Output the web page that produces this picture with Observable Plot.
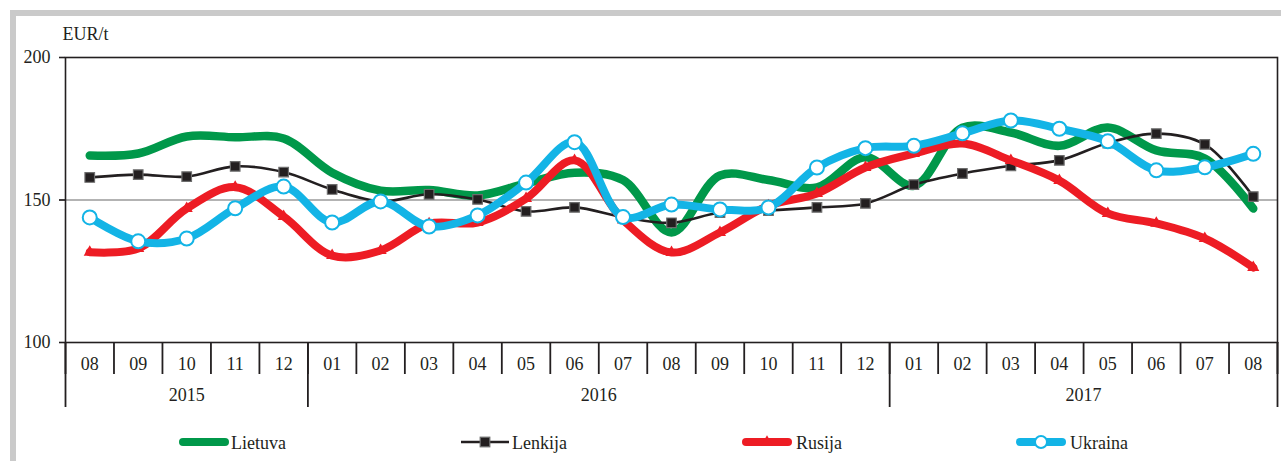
<!DOCTYPE html>
<html>
<head>
<meta charset="utf-8">
<script src="https://cdn.jsdelivr.net/npm/d3@7"></script>
<script src="https://cdn.jsdelivr.net/npm/@observablehq/plot@0.6"></script>
<style>
  body { margin: 0; background: #fff; font-family: "Liberation Serif", "DejaVu Serif", serif; }
  #wrap { position: relative; width: 1281px; height: 461px; overflow: hidden; background: #fff; }
  #border { position: absolute; left: 10px; top: 10px; width: 1400px; height: 600px;
            border-top: 6px solid #cacaca; border-left: 6px solid #cacaca; box-sizing: border-box; }
  #chart { position: absolute; left: 0; top: 0; }
  #legend { position: absolute; left: 0; top: 420px; }
  svg text { font-family: "Liberation Serif", "DejaVu Serif", serif !important; }
</style>
</head>
<body>
<div id="wrap">
  <div id="border"></div>
  <div id="chart"></div>
  <div id="legend"></div>
</div>
<script>
// ---- data ----
const months = ["08","09","10","11","12","01","02","03","04","05","06","07","08","09","10","11","12","01","02","03","04","05","06","07","08"];
const yearLabels = ["2015", "2016", "2017"];
const yearCenters = [2, 10.5, 20.5];
const yearBounds = [-0.5, 4.5, 16.5, 24.5];
const yTicks = [100, 150, 200];
const unitLabel = "EUR/t";

const seriesNames = ["Lietuva", "Lenkija", "Rusija", "Ukraina"];
const seriesColors = ["#00984a", "#231f20", "#ed1c24", "#13b4e6"];

const lietuva = [165.6,166.3,172.3,172,171.6,159.6,153.3,153.5,151.6,155.8,159.6,157,138.6,158.6,157,154.4,165,155,175.4,173.7,169,175.4,167.4,164.6,147];
const lenkija = [157.9,158.9,158.2,161.8,159.8,153.7,149.5,152,150.2,146,147.4,144,142,145.6,146.3,147.4,148.8,155.4,159.3,162,163.9,170,173.3,169.5,151.2];
const rusija  = [131.7,133,147,154.5,144.2,130.5,132.3,141.7,142.1,150.5,163.9,143,131.6,138.6,148,152.3,161.4,166.3,169.8,163.9,156.8,145.3,141.8,136.5,126.3];
const ukraina = [143.9,135.5,136.5,147.1,154.7,142.1,149.5,140.7,144.6,156.1,170.3,144,148.4,146.7,147.4,161.4,168.2,169,173.4,177.9,175,170.6,160.4,161.5,166.2];

// ---- build tables ----
const toRows = (arr) => arr.map((v, i) => ({i, v}));
const L = toRows(lietuva), K = toRows(lenkija), R = toRows(rusija), U = toRows(ukraina);
const monthIdx = months.map((m, i) => i);
const monthBounds = d3.range(months.length + 1).map(i => i - 0.5);
const font = '"Liberation Serif", "DejaVu Serif", serif';

const chart = Plot.plot({
  width: 1281,
  height: 420,
  marginLeft: 65,
  marginRight: 4,
  marginTop: 57,
  marginBottom: 78,
  style: { fontFamily: font, fontSize: "18px", background: "transparent", color: "#231f20" },
  x: { type: "linear", domain: [-0.5, months.length - 0.5], axis: null },
  y: { domain: [100, 200], axis: null },
  marks: [
    Plot.ruleY([150], { stroke: "#9a9a9a", strokeWidth: 1.5, insetLeft: -6 }),
    Plot.frame({ stroke: "#231f20", strokeWidth: 1.6 }),
    Plot.axisY(yTicks, { tickSize: 6, tickPadding: 9, fontSize: 18, stroke: "#231f20", strokeWidth: 1.6, label: null, fill: "#231f20" }),
    Plot.text([unitLabel], { frameAnchor: "top-left", textAnchor: "start", lineAnchor: "bottom", dx: -3, dy: -18, fontSize: 18, fill: "#231f20" }),
    // month separators
    Plot.ruleX(monthBounds, { x: d => d, y1: () => 100, y2: () => 100, insetBottom: -32, stroke: "#231f20", strokeWidth: 1.8 }),
    // year separators
    Plot.ruleX(yearBounds, { x: d => d, y1: () => 100, y2: () => 100, insetBottom: -65, stroke: "#231f20", strokeWidth: 1.8 }),
    // month labels
    Plot.text(monthIdx, { x: d => d, text: d => months[d], frameAnchor: "bottom", lineAnchor: "middle", dy: 21.5, fontSize: 18, fill: "#231f20" }),
    // year labels
    Plot.text(yearLabels, { x: (d, i) => yearCenters[i], text: d => d, frameAnchor: "bottom", lineAnchor: "middle", dy: 53, fontSize: 18, fill: "#231f20" }),
    // series
    Plot.line(L, { x: "i", y: "v", stroke: seriesColors[0], strokeWidth: 8.5, curve: "catmull-rom", strokeLinecap: "round", strokeLinejoin: "round" }),
    Plot.line(K, { x: "i", y: "v", stroke: seriesColors[1], strokeWidth: 2.6, curve: "catmull-rom" }),
    Plot.dot(K, { x: "i", y: "v", symbol: "square", r: 5.4, fill: seriesColors[1], stroke: "#6d6d6d", strokeWidth: 1.2 }),
    Plot.line(R, { x: "i", y: "v", stroke: seriesColors[2], strokeWidth: 8, curve: "catmull-rom", strokeLinecap: "round", strokeLinejoin: "round" }),
    Plot.dot(R, { x: "i", y: "v", symbol: "triangle", r: 4.5, fill: seriesColors[2], stroke: "none" }),
    Plot.line(U, { x: "i", y: "v", stroke: seriesColors[3], strokeWidth: 8, curve: "catmull-rom", strokeLinecap: "round", strokeLinejoin: "round" }),
    Plot.dot(U, { x: "i", y: "v", symbol: "circle", r: 7, fill: "white", stroke: seriesColors[3], strokeWidth: 2 })
  ]
});
document.getElementById("chart").appendChild(chart);

// ---- legend ----
const legendPos = [
  { x0: 179, x1: 229, tx: 231 },
  { x0: 461, x1: 509, tx: 512 },
  { x0: 742, x1: 792, tx: 796 },
  { x0: 1016, x1: 1066, tx: 1070 }
];
const lsvg = d3.select("#legend").append("svg").attr("width", 1281).attr("height", 41)
  .style("font-family", font).style("font-size", "18px");
const ly = 22;
seriesNames.forEach((name, k) => {
  const p = legendPos[k], c = seriesColors[k], mid = (p.x0 + p.x1) / 2;
  const g = lsvg.append("g");
  if (k === 1) {
    g.append("line").attr("x1", p.x0).attr("x2", p.x1).attr("y1", ly).attr("y2", ly).attr("stroke", c).attr("stroke-width", 2.6);
    g.append("rect").attr("x", mid - 4.8).attr("y", ly - 4.8).attr("width", 9.6).attr("height", 9.6).attr("fill", c).attr("stroke", "#6d6d6d").attr("stroke-width", 1.2);
  } else {
    g.append("line").attr("x1", p.x0 + 4).attr("x2", p.x1 - 4).attr("y1", ly).attr("y2", ly).attr("stroke", c).attr("stroke-width", 8).attr("stroke-linecap", "round");
    if (k === 2) g.append("path").attr("d", d3.symbol(d3.symbolTriangle, 60)()).attr("transform", `translate(${mid},${ly})`).attr("fill", c);
    if (k === 3) g.append("circle").attr("cx", mid).attr("cy", ly).attr("r", 6).attr("fill", "white").attr("stroke", c).attr("stroke-width", 2);
  }
  g.append("text").attr("x", p.tx).attr("y", ly + 6.5).attr("fill", "#231f20").text(name);
});
</script>
</body>
</html>
